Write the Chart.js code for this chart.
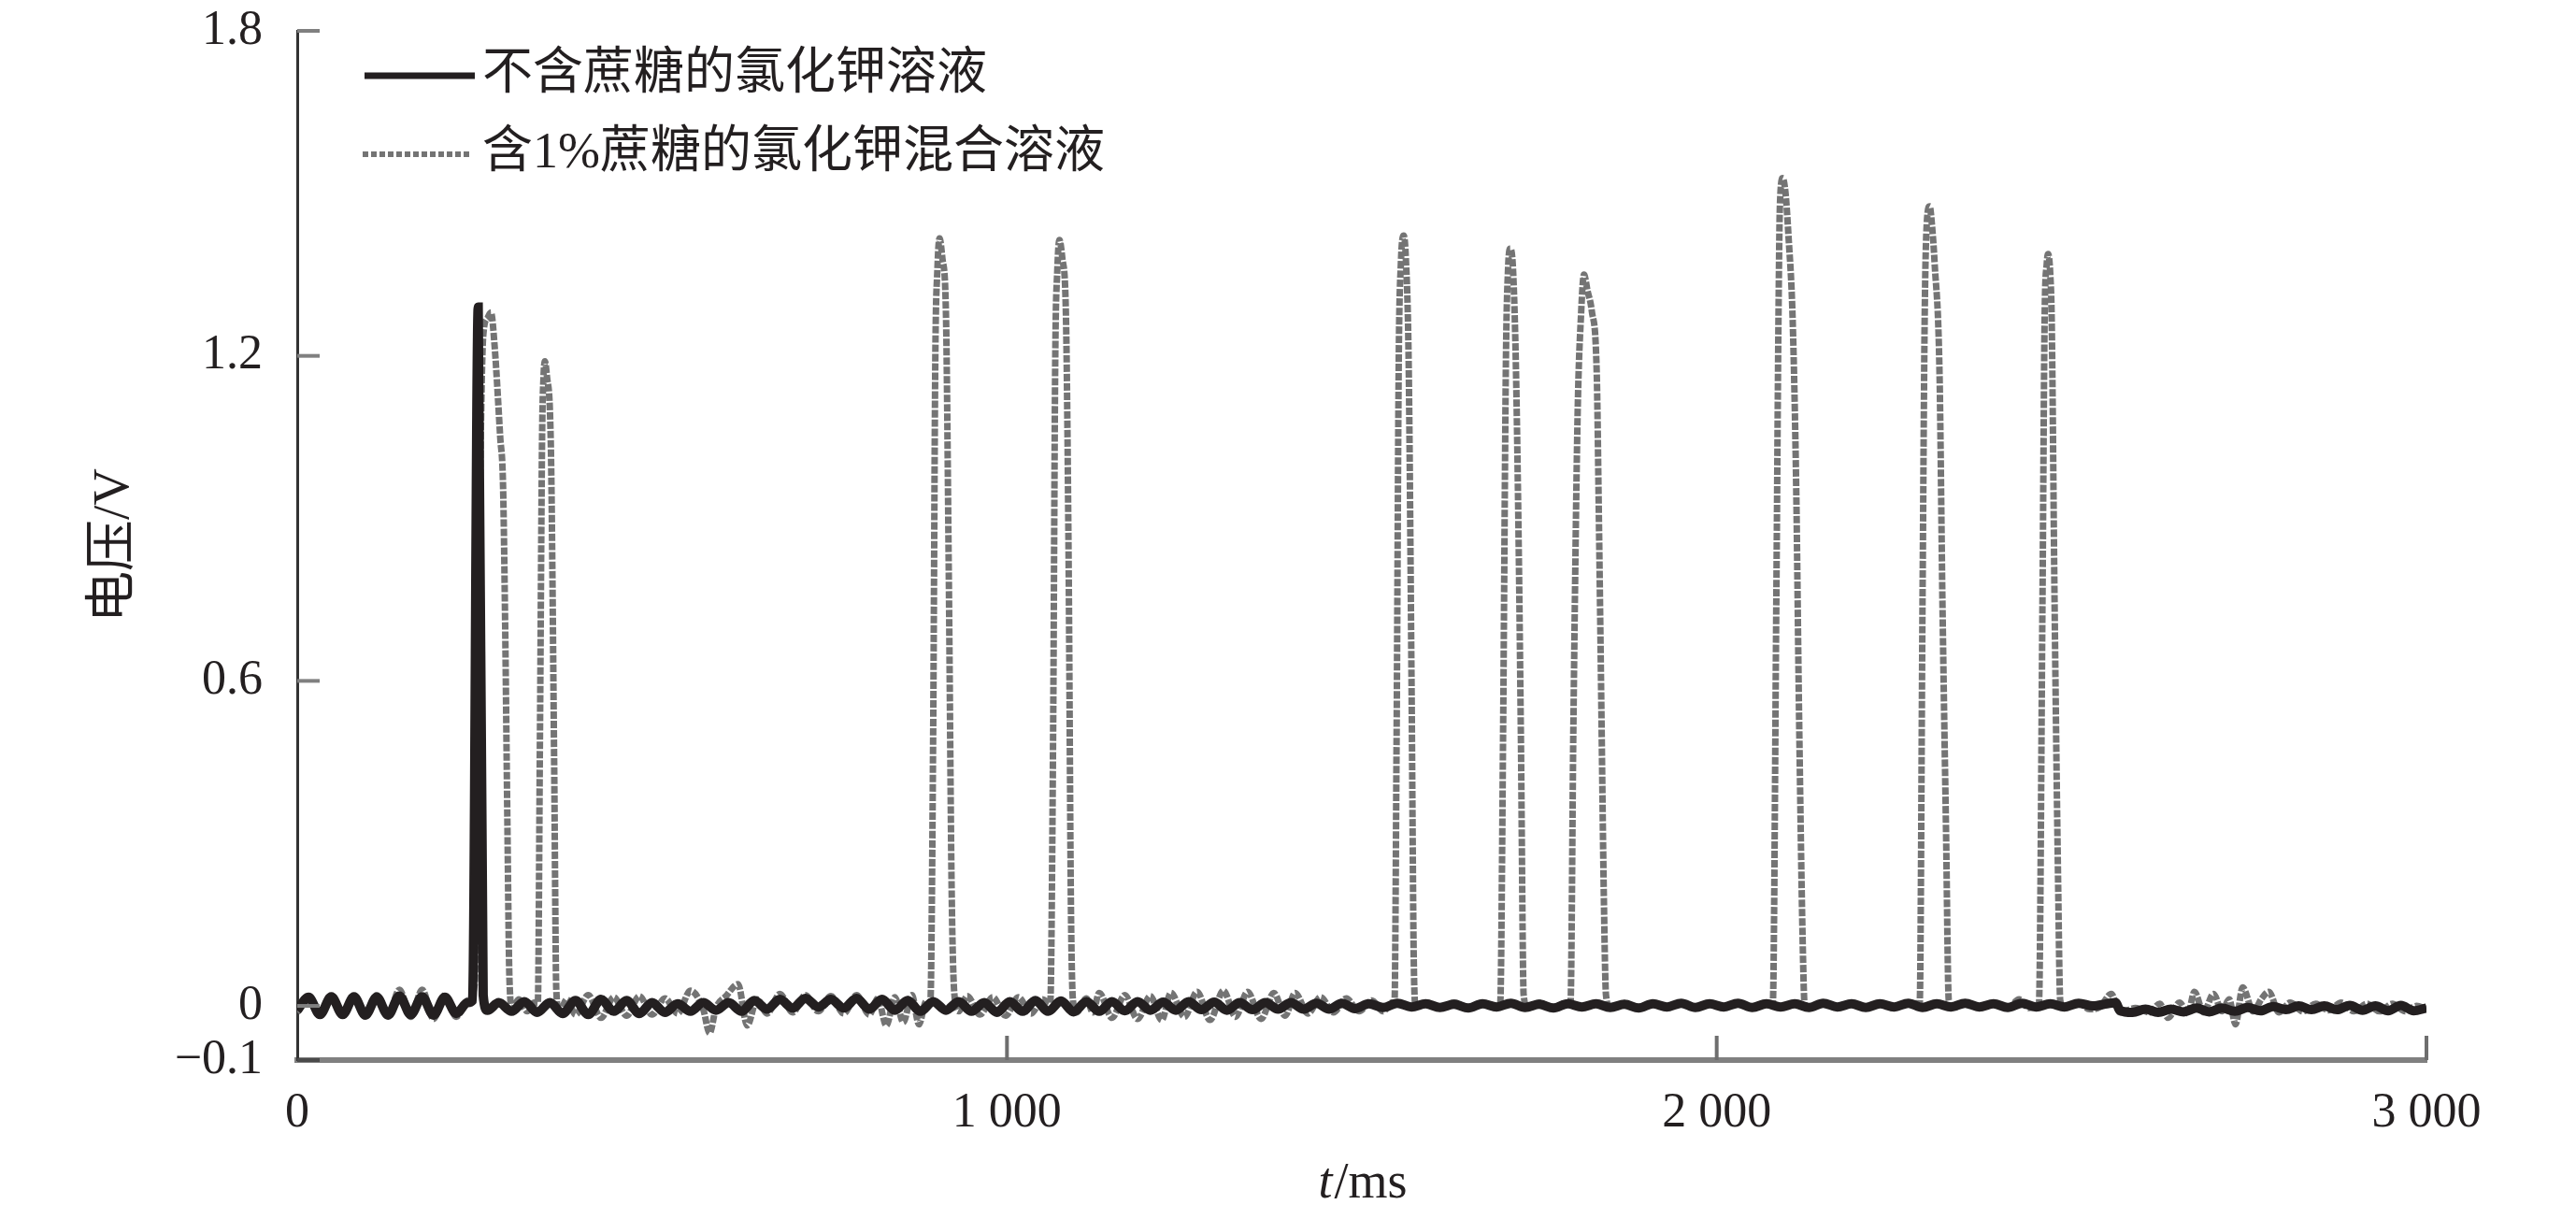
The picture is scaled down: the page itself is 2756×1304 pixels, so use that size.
<!DOCTYPE html>
<html>
<head>
<meta charset="utf-8">
<script src="https://cdn.jsdelivr.net/npm/chart.js@4.4.1/dist/chart.umd.min.js"></script>
<style>
  body { margin: 0; background: #fff; }
  #chart { display: block; }
</style>
</head>
<body>
<canvas id="chart" width="2756" height="1304"></canvas>
<script>
// series 1: 不含蔗糖的氯化钾溶液 (t in ms, voltage in V)
const blackT = [
  0, 16, 32, 48, 64, 80, 96, 112, 128, 144,
  160, 176, 192, 208, 224, 240, 247, 255, 262, 268,
  284, 302, 320, 338, 356, 374, 392, 410, 428, 446,
  464, 482, 500, 518, 536, 554, 572, 590, 608, 626,
  644, 662, 680, 698, 716, 734, 752, 770, 788, 806,
  824, 842, 860, 878, 896, 914, 932, 950, 968, 986,
  1004, 1022, 1040, 1058, 1076, 1094, 1112, 1130, 1148, 1166,
  1184, 1202, 1220, 1238, 1256, 1274, 1292, 1310, 1328, 1346,
  1364, 1382, 1400, 1418, 1436, 1454, 1472, 1490, 1510, 1530,
  1550, 1570, 1590, 1610, 1630, 1650, 1670, 1690, 1710, 1730,
  1750, 1770, 1790, 1810, 1830, 1850, 1870, 1890, 1910, 1930,
  1950, 1970, 1990, 2010, 2030, 2050, 2070, 2090, 2110, 2130,
  2150, 2170, 2190, 2210, 2230, 2250, 2270, 2290, 2310, 2330,
  2350, 2370, 2390, 2410, 2430, 2450, 2470, 2490, 2510, 2530,
  2550, 2562, 2568, 2586, 2604, 2622, 2640, 2658, 2676, 2694,
  2712, 2730, 2748, 2766, 2784, 2802, 2820, 2838, 2856, 2874,
  2892, 2910, 2928, 2946, 2964, 2982, 3000
];
const blackV = [
  -0.008, 0.016, -0.016, 0.017, -0.016, 0.017, -0.017, 0.016, -0.017, 0.018,
  -0.016, 0.017, -0.017, 0.016, -0.014, 0.006, 0.010, 1.290, 0.020, -0.008,
  0.006, -0.010, 0.008, -0.012, 0.006, -0.014, 0.010, -0.016, 0.012, -0.010,
  0.010, -0.014, 0.006, -0.012, 0.004, -0.010, 0.006, -0.008, 0.006, -0.010,
  0.010, -0.006, 0.012, -0.004, 0.014, -0.002, 0.012, -0.004, 0.014, -0.006,
  0.012, -0.008, 0.010, -0.010, 0.008, -0.008, 0.008, -0.010, 0.006, -0.012,
  0.008, -0.010, 0.010, -0.010, 0.009, -0.011, 0.008, -0.010, 0.008, -0.009,
  0.008, -0.008, 0.007, -0.008, 0.008, -0.007, 0.007, -0.008, 0.006, -0.007,
  0.006, -0.006, 0.006, -0.006, 0.005, -0.006, 0.005, -0.005, 0.004, -0.003,
  0.005, -0.002, 0.004, -0.003, 0.003, -0.004, 0.004, -0.002, 0.005, -0.003,
  0.003, -0.004, 0.004, -0.002, 0.004, -0.003, 0.003, -0.004, 0.004, -0.002,
  0.005, -0.003, 0.004, -0.002, 0.005, -0.003, 0.004, -0.002, 0.004, -0.003,
  0.005, -0.002, 0.004, -0.003, 0.004, -0.002, 0.005, -0.003, 0.004, -0.002,
  0.005, -0.002, 0.004, -0.003, 0.005, -0.002, 0.004, -0.002, 0.005, 0.000,
  0.004, 0.006, -0.008, -0.012, -0.006, -0.012, -0.006, -0.011, -0.004, -0.011,
  -0.004, -0.010, -0.003, -0.009, -0.001, -0.007, 0.000, -0.007, 0.000, -0.007,
  0.001, -0.008, 0.000, -0.009, 0.001, -0.009, -0.004
];

// series 2: 含1%蔗糖的氯化钾混合溶液
const grayT = [
  0, 16, 32, 48, 64, 80, 96, 112, 128, 144,
  160, 176, 192, 208, 224, 240, 250, 258, 262, 268,
  273, 278, 286, 290, 293, 296, 299, 303, 312, 324,
  334, 339, 342, 345, 347, 349, 352, 356, 358, 362,
  365, 369, 380, 392, 410, 428, 446, 464, 482, 500,
  518, 536, 554, 572, 581, 590, 604, 621, 634, 648,
  662, 680, 698, 716, 734, 752, 770, 788, 806, 818,
  830, 842, 854, 866, 876, 886, 892, 896, 899, 902,
  905, 909, 914, 918, 922, 926, 932, 944, 962, 980,
  998, 1016, 1034, 1050, 1061, 1065, 1068, 1071, 1074, 1078,
  1083, 1087, 1090, 1093, 1098, 1112, 1121, 1130, 1148, 1166,
  1184, 1202, 1218, 1231, 1250, 1268, 1286, 1305, 1322, 1339,
  1358, 1376, 1392, 1406, 1424, 1442, 1460, 1478, 1496, 1514,
  1530, 1542, 1546, 1549, 1552, 1555, 1559, 1562, 1566, 1570,
  1573, 1576, 1590, 1610, 1630, 1650, 1670, 1690, 1695, 1699,
  1703, 1706, 1709, 1713, 1717, 1721, 1724, 1728, 1734, 1750,
  1770, 1786, 1794, 1798, 1804, 1809, 1813, 1818, 1824, 1831,
  1834, 1837, 1841, 1844, 1850, 1870, 1890, 1910, 1930, 1950,
  1970, 1990, 2010, 2030, 2050, 2066, 2079, 2084, 2087, 2089,
  2093, 2097, 2101, 2107, 2112, 2116, 2121, 2124, 2130, 2150,
  2170, 2190, 2210, 2230, 2250, 2270, 2286, 2290, 2293, 2296,
  2300, 2304, 2307, 2314, 2318, 2323, 2327, 2334, 2350, 2370,
  2390, 2410, 2426, 2440, 2454, 2459, 2462, 2465, 2467, 2470,
  2472, 2476, 2481, 2484, 2490, 2510, 2525, 2540, 2556, 2568,
  2590, 2610, 2624, 2636, 2652, 2664, 2673, 2686, 2700, 2712,
  2722, 2731, 2741, 2756, 2768, 2778, 2792, 2808, 2826, 2844,
  2862, 2880, 2898, 2916, 2934, 2952, 2970, 2986, 3000
];
const grayV = [
  -0.012, 0.014, -0.018, 0.016, -0.018, 0.016, -0.020, 0.020, -0.018, 0.030,
  -0.020, 0.030, -0.024, 0.020, -0.020, 0.010, 0.040, 1.000, 1.236, 1.270,
  1.280, 1.220, 1.050, 0.960, 0.700, 0.350, 0.050, -0.005, 0.012, -0.010,
  0.006, 0.005, 0.500, 1.050, 1.160, 1.190, 1.160, 1.100, 0.980, 0.450,
  0.030, -0.012, 0.012, -0.016, 0.020, -0.022, 0.016, -0.018, 0.018, -0.016,
  0.014, -0.014, 0.028, -0.006, -0.050, -0.004, 0.018, 0.040, -0.036, 0.012,
  -0.014, 0.022, -0.012, 0.020, -0.010, 0.018, -0.014, 0.020, -0.016, 0.014,
  -0.036, 0.016, -0.030, 0.020, -0.034, 0.008, 0.005, 0.500, 1.190, 1.360,
  1.417, 1.380, 1.280, 0.800, 0.220, 0.020, -0.010, 0.018, -0.016, 0.016,
  -0.018, 0.016, -0.014, 0.012, 0.005, 0.500, 1.190, 1.360, 1.414, 1.380,
  1.280, 0.800, 0.200, 0.010, -0.012, 0.014, -0.012, 0.024, -0.022, 0.020,
  -0.024, 0.018, -0.026, 0.024, -0.020, 0.026, -0.026, 0.028, -0.020, 0.026,
  -0.024, 0.024, -0.018, 0.024, -0.014, 0.016, -0.012, 0.014, -0.010, 0.010,
  -0.010, 0.006, 0.005, 0.500, 1.190, 1.370, 1.422, 1.380, 1.185, 0.600,
  0.100, 0.000, 0.006, -0.004, 0.006, -0.004, 0.006, -0.004, 0.005, 0.500,
  1.190, 1.360, 1.398, 1.360, 1.185, 0.850, 0.510, 0.020, -0.004, 0.006,
  -0.004, 0.005, 0.005, 0.510, 1.090, 1.280, 1.350, 1.320, 1.283, 1.166,
  0.900, 0.600, 0.200, 0.020, -0.004, 0.005, -0.004, 0.005, -0.004, 0.006,
  -0.004, 0.005, -0.004, 0.005, -0.004, 0.005, 0.005, 0.750, 1.267, 1.476,
  1.528, 1.500, 1.424, 1.267, 0.957, 0.540, 0.126, 0.000, -0.004, 0.005,
  -0.004, 0.005, -0.004, 0.005, -0.004, 0.005, 0.005, 0.750, 1.267, 1.445,
  1.476, 1.430, 1.372, 1.164, 0.750, 0.333, 0.010, -0.004, 0.006, -0.004,
  0.005, -0.004, 0.012, -0.004, 0.004, 0.750, 1.267, 1.370, 1.388, 1.350,
  1.267, 0.750, 0.230, 0.010, -0.004, 0.006, -0.006, -0.002, 0.022, -0.012,
  -0.004, -0.012, 0.004, -0.022, 0.006, -0.014, 0.026, -0.012, 0.022, -0.010,
  0.012, -0.034, 0.034, -0.010, 0.014, 0.026, -0.012, 0.006, -0.010, 0.004,
  -0.008, 0.006, -0.010, 0.004, -0.010, 0.004, -0.010, 0.000, -0.006
];

const seriesNames = ['不含蔗糖的氯化钾溶液', '含1%蔗糖的氯化钾混合溶液'];
const yTicks = [-0.1, 0, 0.6, 1.2, 1.8];
const xTicks = [0, 1000, 2000, 3000];

const serif = '"Liberation Serif", "Noto Sans CJK SC", serif';
const inkColor = '#231f20';
const grayColor = '#747474';

const toPoints = (ts, vs) => ts.map((t, i) => ({ x: t, y: vs[i] }));

// tick marks pointing into the plot, axis title and legend
const decorations = {
  id: 'decorations',
  afterDraw(chart) {
    const { ctx, scales: { x, y } } = chart;
    ctx.save();

    ctx.lineWidth = 4;
    yTicks.forEach(v => {
      const py = y.getPixelForValue(v);
      ctx.strokeStyle = v < 0 ? '#4a4a4a' : '#808080';
      ctx.beginPath();
      ctx.moveTo(x.left, py);
      ctx.lineTo(x.left + 24, py);
      ctx.stroke();
    });
    ctx.strokeStyle = '#6e6e6e';
    xTicks.slice(1).forEach(v => {
      const px = x.getPixelForValue(v);
      ctx.beginPath();
      ctx.moveTo(px, y.bottom);
      ctx.lineTo(px, y.bottom - 26);
      ctx.stroke();
    });

    // x title: italic t + /ms
    ctx.fillStyle = inkColor;
    ctx.textBaseline = 'alphabetic';
    ctx.textAlign = 'left';
    const italic = 'italic 54px ' + serif;
    const upright = '54px ' + serif;
    ctx.font = italic;
    const wT = ctx.measureText('t').width;
    ctx.font = upright;
    const wRest = ctx.measureText('/ms').width;
    let tx = (x.left + x.right) / 2 - (wT + wRest) / 2;
    ctx.font = italic;
    ctx.fillText('t', tx, 1281);
    ctx.font = upright;
    ctx.fillText('/ms', tx + wT + 2, 1281);

    // legend
    const rows = [81, 165];
    ctx.lineCap = 'butt';
    ctx.strokeStyle = inkColor;
    ctx.lineWidth = 7;
    ctx.beginPath();
    ctx.moveTo(390, rows[0]);
    ctx.lineTo(508, rows[0]);
    ctx.stroke();
    ctx.strokeStyle = grayColor;
    ctx.lineWidth = 6;
    ctx.setLineDash([6, 3]);
    ctx.beginPath();
    ctx.moveTo(388, rows[1]);
    ctx.lineTo(504, rows[1]);
    ctx.stroke();
    ctx.setLineDash([]);
    ctx.font = '54px ' + serif;
    ctx.textBaseline = 'middle';
    ctx.fillStyle = inkColor;
    seriesNames.forEach((name, i) => ctx.fillText(name, 516, rows[i]));

    ctx.restore();
  }
};

new Chart(document.getElementById('chart'), {
  type: 'line',
  data: {
    datasets: [
      {
        label: seriesNames[0],
        data: toPoints(blackT, blackV),
        borderColor: inkColor,
        borderWidth: 10,
        pointRadius: 0,
        cubicInterpolationMode: 'monotone'
      },
      {
        label: seriesNames[1],
        data: toPoints(grayT, grayV),
        borderColor: grayColor,
        borderWidth: 7,
        borderDash: [8, 2],
        pointRadius: 0,
        cubicInterpolationMode: 'monotone'
      }
    ]
  },
  options: {
    responsive: false,
    animation: false,
    devicePixelRatio: 1,
    layout: { padding: { top: 0, right: 160, bottom: 0, left: 0 } },
    plugins: { legend: { display: false }, tooltip: { enabled: false } },
    scales: {
      x: {
        type: 'linear',
        min: 0,
        max: 3000,
        afterBuildTicks: s => { s.ticks = xTicks.map(v => ({ value: v })); },
        afterFit: s => { s.height = 170; },
        grid: { display: false, drawTicks: false },
        border: { display: true, color: '#808080', width: 6 },
        ticks: {
          padding: 26,
          color: inkColor,
          font: { family: serif, size: 52 },
          maxRotation: 0,
          callback: v => String(v).replace(/\B(?=(\d{3})+(?!\d))/g, ' ')
        }
      },
      y: {
        min: -0.1,
        max: 1.8,
        afterBuildTicks: s => { s.ticks = yTicks.map(v => ({ value: v })); },
        afterFit: s => {
          s.width = 318;
          s.paddingTop = 33;
          s.paddingBottom = 0;
        },
        grid: { display: false, drawTicks: false },
        border: { display: true, color: '#333333', width: 3 },
        ticks: {
          padding: 37,
          color: inkColor,
          font: { family: serif, size: 52 },
          callback: v => v < 0 ? '−' + Math.abs(v) : String(v)
        },
        title: {
          display: true,
          text: '电压/V',
          color: inkColor,
          font: { family: serif, size: 55 },
          padding: { top: 90, bottom: 0 }
        }
      }
    }
  },
  plugins: [decorations]
});
</script>
</body>
</html>
